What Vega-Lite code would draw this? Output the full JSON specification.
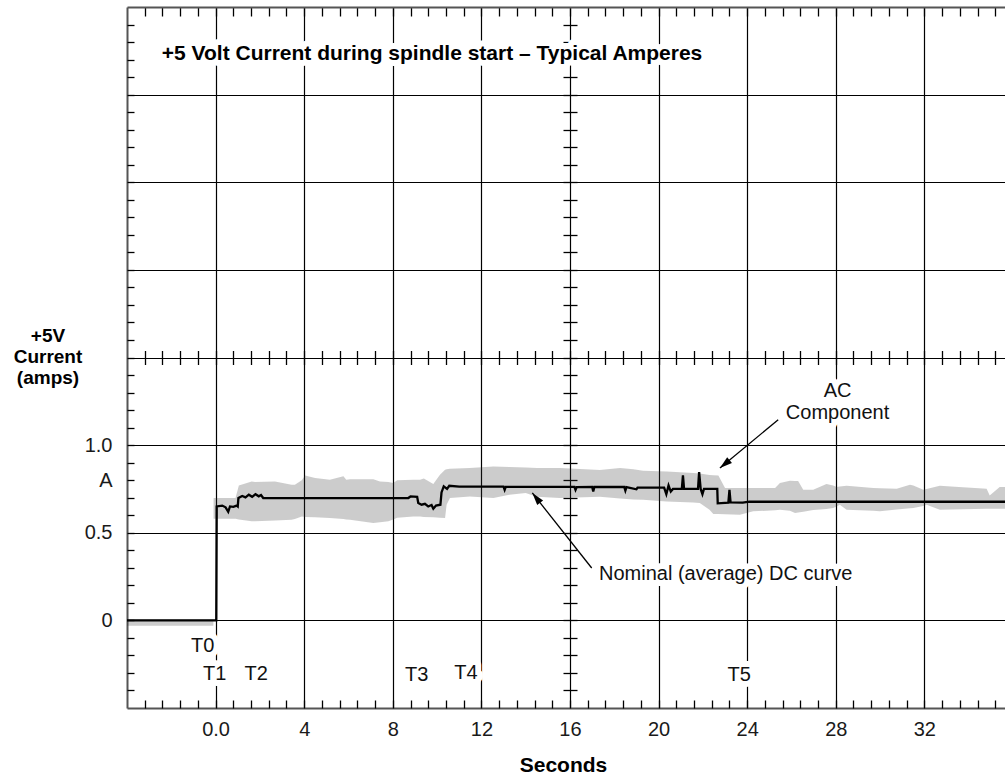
{
  "$schema": "https://vega.github.io/schema/vega-lite/v6.json",
  "width": 878,
  "height": 701,
  "autosize": "none",
  "padding": {"left": 127, "top": 7, "right": 0, "bottom": 70},
  "background": "white",
  "config": {
    "view": {"stroke": null},
    "font": "Liberation Sans",
    "axis": {"labelFont": "Liberation Sans", "titleFont": "Liberation Sans"}
  },
  "datasets": {
    "band": [
      {"t": -4, "lo": -0.03, "hi": 0.005},
      {"t": -0.1, "lo": -0.03, "hi": 0.005},
      {"t": -0.09, "lo": 0.58, "hi": 0.698},
      {"t": 0.9, "lo": 0.58, "hi": 0.698},
      {"t": 1.05, "lo": 0.575, "hi": 0.77},
      {"t": 1.63, "lo": 0.565, "hi": 0.793},
      {"t": 1.78, "lo": 0.565, "hi": 0.79},
      {"t": 2.68, "lo": 0.57, "hi": 0.793},
      {"t": 3.43, "lo": 0.574, "hi": 0.774},
      {"t": 3.58, "lo": 0.578, "hi": 0.774},
      {"t": 3.89, "lo": 0.593, "hi": 0.8},
      {"t": 4.04, "lo": 0.59, "hi": 0.827},
      {"t": 4.49, "lo": 0.588, "hi": 0.812},
      {"t": 5.16, "lo": 0.584, "hi": 0.803},
      {"t": 5.77, "lo": 0.578, "hi": 0.822},
      {"t": 5.9, "lo": 0.576, "hi": 0.803},
      {"t": 6.07, "lo": 0.574, "hi": 0.805},
      {"t": 7.12, "lo": 0.556, "hi": 0.805},
      {"t": 7.42, "lo": 0.56, "hi": 0.793},
      {"t": 7.8, "lo": 0.565, "hi": 0.79},
      {"t": 8.02, "lo": 0.575, "hi": 0.784},
      {"t": 8.2, "lo": 0.585, "hi": 0.8},
      {"t": 8.93, "lo": 0.593, "hi": 0.803},
      {"t": 9.23, "lo": 0.593, "hi": 0.803},
      {"t": 9.4, "lo": 0.59, "hi": 0.81},
      {"t": 9.83, "lo": 0.588, "hi": 0.778},
      {"t": 10.13, "lo": 0.585, "hi": 0.831},
      {"t": 10.36, "lo": 0.584, "hi": 0.86},
      {"t": 10.43, "lo": 0.66, "hi": 0.862},
      {"t": 10.58, "lo": 0.698, "hi": 0.865},
      {"t": 11.48, "lo": 0.707, "hi": 0.869},
      {"t": 12.54, "lo": 0.698, "hi": 0.878},
      {"t": 13.26, "lo": 0.717, "hi": 0.875},
      {"t": 14.0, "lo": 0.727, "hi": 0.872},
      {"t": 14.5, "lo": 0.705, "hi": 0.87},
      {"t": 15.55, "lo": 0.698, "hi": 0.869},
      {"t": 17.35, "lo": 0.705, "hi": 0.858},
      {"t": 18.26, "lo": 0.695, "hi": 0.869},
      {"t": 18.86, "lo": 0.69, "hi": 0.862},
      {"t": 19.3, "lo": 0.688, "hi": 0.854},
      {"t": 20.36, "lo": 0.679, "hi": 0.85},
      {"t": 21.57, "lo": 0.672, "hi": 0.841},
      {"t": 21.86, "lo": 0.67, "hi": 0.838},
      {"t": 22.3, "lo": 0.631, "hi": 0.83},
      {"t": 22.47, "lo": 0.607, "hi": 0.828},
      {"t": 22.7, "lo": 0.607, "hi": 0.827},
      {"t": 23.0, "lo": 0.606, "hi": 0.755},
      {"t": 23.67, "lo": 0.603, "hi": 0.755},
      {"t": 24.27, "lo": 0.622, "hi": 0.755},
      {"t": 25.26, "lo": 0.628, "hi": 0.755},
      {"t": 25.48, "lo": 0.631, "hi": 0.784},
      {"t": 25.93, "lo": 0.625, "hi": 0.797},
      {"t": 26.16, "lo": 0.613, "hi": 0.796},
      {"t": 26.3, "lo": 0.615, "hi": 0.795},
      {"t": 26.53, "lo": 0.62, "hi": 0.746},
      {"t": 26.98, "lo": 0.63, "hi": 0.746},
      {"t": 27.58, "lo": 0.636, "hi": 0.778},
      {"t": 27.88, "lo": 0.641, "hi": 0.77},
      {"t": 28.04, "lo": 0.65, "hi": 0.761},
      {"t": 28.18, "lo": 0.66, "hi": 0.764},
      {"t": 28.49, "lo": 0.631, "hi": 0.768},
      {"t": 29.69, "lo": 0.625, "hi": 0.755},
      {"t": 29.99, "lo": 0.622, "hi": 0.754},
      {"t": 30.75, "lo": 0.632, "hi": 0.751},
      {"t": 31.35, "lo": 0.64, "hi": 0.774},
      {"t": 31.5, "lo": 0.641, "hi": 0.77},
      {"t": 31.95, "lo": 0.652, "hi": 0.746},
      {"t": 32.1, "lo": 0.66, "hi": 0.75},
      {"t": 32.7, "lo": 0.631, "hi": 0.768},
      {"t": 33.2, "lo": 0.632, "hi": 0.764},
      {"t": 34.81, "lo": 0.637, "hi": 0.751},
      {"t": 34.95, "lo": 0.637, "hi": 0.713},
      {"t": 35.4, "lo": 0.637, "hi": 0.761},
      {"t": 36, "lo": 0.637, "hi": 0.761}
    ],
    "dc": [
      {"t": -4, "a": 0},
      {"t": 0.03, "a": 0},
      {"t": 0.05, "a": 0.65},
      {"t": 0.3, "a": 0.655},
      {"t": 0.45, "a": 0.645},
      {"t": 0.57, "a": 0.62},
      {"t": 0.65, "a": 0.65},
      {"t": 0.8, "a": 0.648},
      {"t": 0.95, "a": 0.655},
      {"t": 1.0, "a": 0.65},
      {"t": 1.03, "a": 0.698},
      {"t": 1.2, "a": 0.71},
      {"t": 1.35, "a": 0.702},
      {"t": 1.5, "a": 0.717},
      {"t": 1.65, "a": 0.705},
      {"t": 1.8, "a": 0.72},
      {"t": 1.95, "a": 0.708},
      {"t": 2.05, "a": 0.715},
      {"t": 2.15, "a": 0.698},
      {"t": 5, "a": 0.698},
      {"t": 8.7, "a": 0.698},
      {"t": 8.8, "a": 0.707},
      {"t": 9.1, "a": 0.705},
      {"t": 9.15, "a": 0.67},
      {"t": 9.3, "a": 0.66},
      {"t": 9.45, "a": 0.665},
      {"t": 9.6, "a": 0.65},
      {"t": 9.75, "a": 0.658},
      {"t": 9.83, "a": 0.637},
      {"t": 9.95, "a": 0.655},
      {"t": 10.15, "a": 0.66},
      {"t": 10.2, "a": 0.73},
      {"t": 10.3, "a": 0.765},
      {"t": 10.45, "a": 0.75},
      {"t": 10.55, "a": 0.768},
      {"t": 11, "a": 0.763},
      {"t": 13.0, "a": 0.763},
      {"t": 13.05, "a": 0.745},
      {"t": 13.1, "a": 0.762},
      {"t": 16.2, "a": 0.762},
      {"t": 16.25, "a": 0.745},
      {"t": 16.3, "a": 0.76},
      {"t": 17.0, "a": 0.762},
      {"t": 17.05, "a": 0.736},
      {"t": 17.1, "a": 0.761},
      {"t": 18.45, "a": 0.761},
      {"t": 18.5, "a": 0.74},
      {"t": 18.55, "a": 0.76},
      {"t": 19.0, "a": 0.748},
      {"t": 19.05, "a": 0.758},
      {"t": 20.25, "a": 0.758},
      {"t": 20.35, "a": 0.72},
      {"t": 20.45, "a": 0.77},
      {"t": 20.55, "a": 0.735},
      {"t": 20.65, "a": 0.75},
      {"t": 21.05, "a": 0.75},
      {"t": 21.1, "a": 0.827},
      {"t": 21.15, "a": 0.75},
      {"t": 21.78, "a": 0.75},
      {"t": 21.83, "a": 0.846},
      {"t": 21.9, "a": 0.75},
      {"t": 21.98, "a": 0.72},
      {"t": 22.05, "a": 0.75},
      {"t": 22.65, "a": 0.75},
      {"t": 22.67, "a": 0.668},
      {"t": 23.15, "a": 0.672},
      {"t": 23.2, "a": 0.745},
      {"t": 23.25, "a": 0.673},
      {"t": 23.8, "a": 0.672},
      {"t": 24.1, "a": 0.677},
      {"t": 36, "a": 0.677}
    ],
    "title": [
      {"label": "+5 Volt Current during spindle start – Typical Amperes", "t": -2.43, "a": 3.198}
    ],
    "notes": [
      {"label": "AC", "t": 28.08, "a": 1.272},
      {"label": "Component", "t": 28.08, "a": 1.149},
      {"label": "Nominal (average) DC curve", "t": 23.03, "a": 0.231},
      {"label": "T0", "t": -0.58, "a": -0.183},
      {"label": "T1", "t": -0.04, "a": -0.342},
      {"label": "T2", "t": 1.83, "a": -0.342},
      {"label": "T3", "t": 9.08, "a": -0.344},
      {"label": "T4", "t": 11.3, "a": -0.334},
      {"label": "T5", "t": 23.64, "a": -0.344}
    ],
    "arrows": [
      {"name": "ac", "t": 25.4, "a": 1.145, "t2": 22.77, "a2": 0.869},
      {"name": "dc", "t": 16.98, "a": 0.299, "t2": 14.3, "a2": 0.727}
    ]
  },
  "resolve": {"axis": {"x": "independent", "y": "independent"}},
  "layer": [
    {
      "data": {"name": "band"},
      "mark": {"type": "area", "fill": "#333333", "fillOpacity": 0.25, "clip": true},
      "encoding": {
        "x": {
          "field": "t", "type": "quantitative",
          "scale": {"domain": [-4, 35.64], "nice": false, "zero": false},
          "axis": {
            "orient": "bottom",
            "values": [0, 4, 8, 12, 16, 20, 24, 28, 32],
            "grid": true, "gridColor": "#000000", "gridWidth": 1.2, "gridOpacity": 1,
            "ticks": false, "tickSize": 0,
            "domain": true, "domainColor": "#555555", "domainWidth": 2,
            "labelExpr": "datum.value == 0 ? '0.0' : datum.label",
            "labelFontSize": 20, "labelColor": "#1a1a1a",
            "labelBaseline": "alphabetic", "labelPadding": 27,
            "labelFlush": false, "labelOverlap": false,
            "title": "Seconds", "titleFontSize": 21, "titleFontWeight": "bold",
            "titleColor": "#000000", "titleX": 436, "titleY": 63,
            "titleBaseline": "alphabetic", "titleAlign": "center"
          }
        },
        "y": {
          "field": "lo", "type": "quantitative",
          "scale": {"domain": [-0.5, 3.5], "nice": false, "zero": false},
          "axis": {
            "orient": "left",
            "values": [0, 0.5, 1, 1.5, 2, 2.5, 3],
            "grid": true, "gridColor": "#000000", "gridWidth": 1.2, "gridOpacity": 1,
            "ticks": false, "tickSize": 0,
            "domain": true, "domainColor": "#555555", "domainWidth": 2,
            "labelExpr": "datum.value == 0 ? '0' : datum.value == 0.5 ? '0.5' : datum.value == 1 ? '1.0' : ''",
            "labelFontSize": 20, "labelColor": "#1a1a1a", "labelPadding": 15,
            "labelBaseline": "middle", "labelAlign": "right",
            "title": ["+5V", "Current", "(amps)"],
            "titleAngle": 0, "titleAlign": "center", "titleBaseline": "alphabetic",
            "titleX": -79.5, "titleY": 334, "titleFontSize": 19, "titleFontWeight": "bold",
            "titleLineHeight": 21, "titleColor": "#000000"
          }
        },
        "y2": {"field": "hi"}
      }
    },
    {
      "data": {"name": "dc"},
      "mark": {"type": "line", "color": "#000000", "strokeWidth": 2.3, "clip": true},
      "encoding": {
        "x": {
          "field": "t", "type": "quantitative",
          "scale": {"domain": [-4, 35.64], "nice": false, "zero": false},
          "axis": {
            "orient": "top", "offset": -701,
            "values": [-3.2,-2.4,-1.6,-0.8,0,0.8,1.6,2.4,3.2,4,4.8,5.6,6.4,7.2,8,8.8,9.6,10.4,11.2,12,12.8,13.6,14.4,15.2,16,16.8,17.6,18.4,19.2,20,20.8,21.6,22.4,23.2,24,24.8,25.6,26.4,27.2,28,28.8,29.6,30.4,31.2,32,32.8,33.6,34.4,35.2],
            "grid": false, "domain": false, "labels": false,
            "ticks": true, "tickSize": 8, "tickColor": "#000000", "tickWidth": 1.3,
            "title": null
          }
        },
        "y": {
          "field": "a", "type": "quantitative",
          "scale": {"domain": [-0.5, 3.5], "nice": false, "zero": false},
          "axis": {
            "orient": "right", "offset": -878,
            "values": [-0.4,-0.3,-0.2,-0.1,0,0.1,0.2,0.3,0.4,0.5,0.6,0.7,0.8,0.9,1,1.1,1.2,1.3,1.4,1.5,1.6,1.7,1.8,1.9,2,2.1,2.2,2.3,2.4,2.5,2.6,2.7,2.8,2.9,3,3.1,3.2,3.3,3.4],
            "grid": false, "domain": false, "labels": false,
            "ticks": true, "tickSize": 7, "tickColor": "#000000", "tickWidth": 1.3,
            "title": null
          }
        }
      }
    },
    {
      "data": {"name": "title"},
      "mark": {"type": "text", "align": "left", "baseline": "alphabetic", "fontSize": 21, "fontWeight": "bold", "fill": "white", "stroke": "white", "strokeWidth": 12, "strokeJoin": "round"},
      "encoding": {
        "x": {
          "field": "t", "type": "quantitative",
          "scale": {"domain": [-4, 35.64], "nice": false, "zero": false},
          "axis": {
            "orient": "bottom", "offset": -701,
            "values": [-3.2,-2.4,-1.6,-0.8,0,0.8,1.6,2.4,3.2,4,4.8,5.6,6.4,7.2,8,8.8,9.6,10.4,11.2,12,12.8,13.6,14.4,15.2,16,16.8,17.6,18.4,19.2,20,20.8,21.6,22.4,23.2,24,24.8,25.6,26.4,27.2,28,28.8,29.6,30.4,31.2,32,32.8,33.6,34.4,35.2],
            "grid": false, "labels": false,
            "domain": true, "domainColor": "#555555", "domainWidth": 2,
            "ticks": true, "tickSize": 9, "tickColor": "#000000", "tickWidth": 1.3,
            "title": null
          }
        },
        "y": {
          "field": "a", "type": "quantitative",
          "scale": {"domain": [-0.5, 3.5], "nice": false, "zero": false},
          "axis": {
            "orient": "left",
            "values": [0.8],
            "grid": false, "domain": false, "ticks": false, "tickSize": 0,
            "labelExpr": "'A'",
            "labelFontSize": 20, "labelColor": "#1a1a1a", "labelPadding": 15,
            "labelBaseline": "middle", "labelAlign": "right",
            "title": null
          }
        },
        "text": {"field": "label"}
      }
    },
    {
      "data": {"name": "notes"},
      "mark": {"type": "text", "align": "center", "baseline": "alphabetic", "fontSize": 20, "fill": "white", "stroke": "white", "strokeWidth": 12, "strokeJoin": "round"},
      "encoding": {
        "x": {
          "field": "t", "type": "quantitative",
          "scale": {"domain": [-4, 35.64], "nice": false, "zero": false},
          "axis": {
            "orient": "bottom", "offset": -350.5,
            "values": [-3.2,-2.4,-1.6,-0.8,0,0.8,1.6,2.4,3.2,4,4.8,5.6,6.4,7.2,8,8.8,9.6,10.4,11.2,12,12.8,13.6,14.4,15.2,16,16.8,17.6,18.4,19.2,20,20.8,21.6,22.4,23.2,24,24.8,25.6,26.4,27.2,28,28.8,29.6,30.4,31.2,32,32.8,33.6,34.4,35.2],
            "grid": false, "domain": false, "labels": false,
            "ticks": true, "tickSize": 7, "tickColor": "#000000", "tickWidth": 1.3,
            "title": null
          }
        },
        "y": {
          "field": "a", "type": "quantitative",
          "scale": {"domain": [-0.5, 3.5], "nice": false, "zero": false},
          "axis": {
            "orient": "left", "offset": -443,
            "values": [-0.4,-0.3,-0.2,-0.1,0,0.1,0.2,0.3,0.4,0.5,0.6,0.7,0.8,0.9,1,1.1,1.2,1.3,1.4,1.5,1.6,1.7,1.8,1.9,2,2.1,2.2,2.3,2.4,2.5,2.6,2.7,2.8,2.9,3,3.1,3.2,3.3,3.4],
            "grid": false, "domain": false, "labels": false,
            "ticks": true, "tickSize": 7, "tickColor": "#000000", "tickWidth": 1.3,
            "title": null
          }
        },
        "text": {"field": "label"}
      }
    },
    {
      "data": {"name": "title"},
      "mark": {"type": "text", "align": "left", "baseline": "alphabetic", "fontSize": 21, "fontWeight": "bold", "color": "#000000"},
      "encoding": {
        "x": {
          "field": "t", "type": "quantitative",
          "scale": {"domain": [-4, 35.64], "nice": false, "zero": false},
          "axis": {
            "orient": "top", "offset": -350.5,
            "values": [-3.2,-2.4,-1.6,-0.8,0,0.8,1.6,2.4,3.2,4,4.8,5.6,6.4,7.2,8,8.8,9.6,10.4,11.2,12,12.8,13.6,14.4,15.2,16,16.8,17.6,18.4,19.2,20,20.8,21.6,22.4,23.2,24,24.8,25.6,26.4,27.2,28,28.8,29.6,30.4,31.2,32,32.8,33.6,34.4,35.2],
            "grid": false, "domain": false, "labels": false,
            "ticks": true, "tickSize": 7, "tickColor": "#000000", "tickWidth": 1.3,
            "title": null
          }
        },
        "y": {
          "field": "a", "type": "quantitative",
          "scale": {"domain": [-0.5, 3.5], "nice": false, "zero": false},
          "axis": {
            "orient": "right", "offset": -435,
            "values": [-0.4,-0.3,-0.2,-0.1,0,0.1,0.2,0.3,0.4,0.5,0.6,0.7,0.8,0.9,1,1.1,1.2,1.3,1.4,1.5,1.6,1.7,1.8,1.9,2,2.1,2.2,2.3,2.4,2.5,2.6,2.7,2.8,2.9,3,3.1,3.2,3.3,3.4],
            "grid": false, "domain": false, "labels": false,
            "ticks": true, "tickSize": 7, "tickColor": "#000000", "tickWidth": 1.3,
            "title": null
          }
        },
        "text": {"field": "label"}
      }
    },
    {
      "data": {"name": "notes"},
      "mark": {"type": "text", "align": "center", "baseline": "alphabetic", "fontSize": 20, "color": "#111111"},
      "encoding": {
        "x": {"field": "t", "type": "quantitative", "scale": {"domain": [-4, 35.64], "nice": false, "zero": false}, "axis": null},
        "y": {"field": "a", "type": "quantitative", "scale": {"domain": [-0.5, 3.5], "nice": false, "zero": false}, "axis": null},
        "text": {"field": "label"}
      }
    },
    {
      "data": {"name": "arrows"},
      "mark": {"type": "rule", "color": "#000000", "strokeWidth": 1.3},
      "encoding": {
        "x": {"field": "t", "type": "quantitative", "scale": {"domain": [-4, 35.64], "nice": false, "zero": false}, "axis": null},
        "y": {"field": "a", "type": "quantitative", "scale": {"domain": [-0.5, 3.5], "nice": false, "zero": false}, "axis": null},
        "x2": {"field": "t2"},
        "y2": {"field": "a2"}
      }
    },
    {
      "data": {"name": "arrows"},
      "transform": [{"filter": "datum.name == 'ac'"}],
      "mark": {"type": "point", "filled": true, "color": "#000000", "opacity": 1, "shape": "M0,0L-0.3,1L0.3,1Z", "size": 625, "angle": 230.4},
      "encoding": {
        "x": {"field": "t2", "type": "quantitative", "scale": {"domain": [-4, 35.64], "nice": false, "zero": false}, "axis": null},
        "y": {"field": "a2", "type": "quantitative", "scale": {"domain": [-0.5, 3.5], "nice": false, "zero": false}, "axis": null}
      }
    },
    {
      "data": {"name": "arrows"},
      "transform": [{"filter": "datum.name == 'dc'"}],
      "mark": {"type": "point", "filled": true, "color": "#000000", "opacity": 1, "shape": "M0,0L-0.3,1L0.3,1Z", "size": 625, "angle": 321.3},
      "encoding": {
        "x": {"field": "t2", "type": "quantitative", "scale": {"domain": [-4, 35.64], "nice": false, "zero": false}, "axis": null},
        "y": {"field": "a2", "type": "quantitative", "scale": {"domain": [-0.5, 3.5], "nice": false, "zero": false}, "axis": null}
      }
    }
  ]
}
